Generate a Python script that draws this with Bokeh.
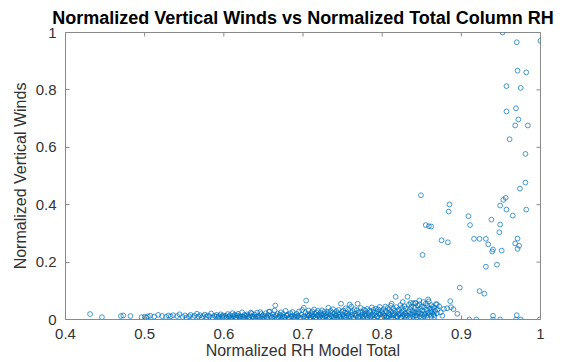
import math
from bokeh.plotting import figure
from bokeh.models import Range1d, FixedTicker, CustomJSTickFormatter
from bokeh.embed import file_html
from bokeh.resources import INLINE

# ---- data ----
x_ticks = [0.4, 0.5, 0.6, 0.7, 0.8, 0.9, 1.0]
y_ticks = [0.0, 0.2, 0.4, 0.6, 0.8, 1.0]

# sparse left tail
xa = [0.431, 0.446, 0.470, 0.473, 0.482, 0.496, 0.500, 0.502, 0.504, 0.507, 0.512, 0.517, 0.522, 0.527, 0.530, 0.533, 0.536]
ya = [0.019, 0.008, 0.012, 0.014, 0.012, 0.008, 0.010, 0.006, 0.011, 0.013, 0.010, 0.016, 0.012, 0.009, 0.014, 0.011, 0.015]

xb = [0.541, 0.544, 0.548, 0.551, 0.553, 0.556, 0.558, 0.561, 0.563, 0.566, 0.568, 0.570, 0.572, 0.574, 0.576,
      0.578, 0.580, 0.582, 0.584, 0.586, 0.588, 0.590, 0.591, 0.593, 0.594, 0.596, 0.597, 0.598, 0.599, 0.600]
yb = [0.012, 0.018, 0.009, 0.014, 0.006, 0.011, 0.016, 0.008, 0.013, 0.020, 0.010, 0.015, 0.007, 0.012, 0.017,
      0.009, 0.014, 0.011, 0.021, 0.006, 0.013, 0.010, 0.016, 0.008, 0.012, 0.018, 0.005, 0.011, 0.014, 0.009]

xc = [0.602, 0.603, 0.605, 0.606, 0.608, 0.609, 0.611, 0.612, 0.614, 0.615,
      0.617, 0.618, 0.620, 0.621, 0.623, 0.624, 0.626, 0.627, 0.629, 0.630,
      0.632, 0.633, 0.635, 0.636, 0.638, 0.639, 0.641, 0.642, 0.644, 0.645,
      0.647, 0.648, 0.650, 0.651, 0.653, 0.654, 0.656, 0.657, 0.659, 0.660,
      0.662, 0.663, 0.665, 0.666, 0.668, 0.669, 0.671, 0.672, 0.674, 0.675,
      0.677, 0.678, 0.680, 0.681, 0.683, 0.684, 0.686, 0.687, 0.689, 0.690,
      0.692, 0.693, 0.695, 0.696, 0.698, 0.699, 0.664, 0.658, 0.646, 0.634]
yc = [0.013, 0.007, 0.019, 0.010, 0.015, 0.004, 0.022, 0.011, 0.017, 0.008,
      0.014, 0.020, 0.006, 0.012, 0.025, 0.009, 0.016, 0.003, 0.018, 0.011,
      0.008, 0.015, 0.021, 0.012, 0.005, 0.017, 0.010, 0.024, 0.013, 0.007,
      0.019, 0.011, 0.015, 0.004, 0.022, 0.009, 0.016, 0.027, 0.012, 0.006,
      0.018, 0.010, 0.049, 0.014, 0.021, 0.007, 0.016, 0.025, 0.011, 0.019,
      0.008, 0.030, 0.013, 0.017, 0.005, 0.022, 0.012, 0.026, 0.009, 0.015,
      0.020, 0.011, 0.028, 0.006, 0.017, 0.033, 0.031, 0.028, 0.026, 0.024]

xd = [0.701, 0.702, 0.703, 0.704, 0.705, 0.706, 0.707, 0.708, 0.709, 0.710,
      0.711, 0.712, 0.713, 0.714, 0.715, 0.716, 0.717, 0.718, 0.719, 0.720,
      0.721, 0.722, 0.723, 0.724, 0.725, 0.726, 0.727, 0.728, 0.729, 0.730,
      0.731, 0.732, 0.733, 0.734, 0.735, 0.736, 0.737, 0.738, 0.739, 0.740,
      0.741, 0.742, 0.743, 0.744, 0.745, 0.746, 0.747, 0.748, 0.749, 0.750,
      0.751, 0.752, 0.753, 0.754, 0.755, 0.756, 0.757, 0.758, 0.759, 0.760,
      0.761, 0.762, 0.763, 0.764, 0.765, 0.766, 0.767, 0.768, 0.769, 0.770,
      0.771, 0.772, 0.773, 0.774, 0.775, 0.776, 0.777, 0.778, 0.779, 0.780,
      0.781, 0.782, 0.783, 0.784, 0.785, 0.786, 0.787, 0.788, 0.789, 0.790,
      0.791, 0.792, 0.793, 0.794, 0.795, 0.796, 0.797, 0.798, 0.799, 0.800]
yd = [0.041, 0.012, 0.024, 0.066, 0.008, 0.019, 0.031, 0.014, 0.005, 0.022,
      0.016, 0.028, 0.010, 0.035, 0.020, 0.006, 0.025, 0.013, 0.030, 0.017,
      0.009, 0.023, 0.014, 0.032, 0.004, 0.019, 0.027, 0.011, 0.021, 0.015,
      0.026, 0.041, 0.007, 0.018, 0.030, 0.012, 0.024, 0.036, 0.009, 0.020,
      0.014, 0.029, 0.005, 0.022, 0.033, 0.016, 0.010, 0.055, 0.027, 0.018,
      0.031, 0.008, 0.024, 0.039, 0.013, 0.021, 0.034, 0.011, 0.052, 0.026,
      0.045, 0.017, 0.029, 0.006, 0.036, 0.020, 0.013, 0.032, 0.055, 0.023,
      0.010, 0.028, 0.040, 0.016, 0.025, 0.007, 0.034, 0.019, 0.030, 0.012,
      0.037, 0.022, 0.014, 0.031, 0.026, 0.009, 0.042, 0.018, 0.033, 0.024,
      0.015, 0.038, 0.028, 0.011, 0.035, 0.021, 0.044, 0.017, 0.030, 0.025]

xe = [0.801, 0.802, 0.803, 0.804, 0.805, 0.806, 0.807, 0.808, 0.809, 0.810,
      0.811, 0.812, 0.813, 0.814, 0.815, 0.816, 0.817, 0.818, 0.819, 0.820,
      0.821, 0.822, 0.823, 0.824, 0.825, 0.826, 0.827, 0.828, 0.829, 0.830,
      0.831, 0.832, 0.833, 0.834, 0.835, 0.836, 0.837, 0.838, 0.839, 0.840,
      0.841, 0.842, 0.843, 0.844, 0.845, 0.846, 0.847, 0.848, 0.849, 0.850,
      0.851, 0.852, 0.853, 0.854, 0.855, 0.856, 0.857, 0.858, 0.859, 0.860,
      0.861, 0.862, 0.863, 0.864, 0.865, 0.866, 0.867, 0.868, 0.869, 0.870,
      0.803, 0.808, 0.814, 0.819, 0.824, 0.829, 0.834, 0.839, 0.844, 0.849,
      0.853, 0.857, 0.862, 0.866, 0.842, 0.836, 0.826, 0.812, 0.847, 0.858]
ye = [0.020, 0.036, 0.012, 0.045, 0.028, 0.008, 0.040, 0.023, 0.033, 0.016,
      0.048, 0.027, 0.014, 0.038, 0.021, 0.031, 0.079, 0.043, 0.010, 0.029,
      0.035, 0.018, 0.050, 0.025, 0.041, 0.012, 0.032, 0.046, 0.022, 0.038,
      0.015, 0.079, 0.028, 0.052, 0.036, 0.019, 0.044, 0.030, 0.057, 0.024,
      0.040, 0.057, 0.013, 0.034, 0.048, 0.026, 0.053, 0.037, 0.020, 0.045,
      0.031, 0.061, 0.042, 0.017, 0.055, 0.035, 0.047, 0.024, 0.063, 0.039,
      0.028, 0.050, 0.036, 0.044, 0.019, 0.041, 0.030, 0.054, 0.022, 0.035,
      0.006, 0.011, 0.004, 0.009, 0.007, 0.012, 0.005, 0.010, 0.008, 0.006,
      0.011, 0.007, 0.013, 0.009, 0.025, 0.058, 0.061, 0.055, 0.066, 0.070]

# low, dense bottom layer of the band
xh = [0.603, 0.607, 0.610, 0.613, 0.616, 0.619, 0.622, 0.625, 0.628, 0.631,
      0.637, 0.640, 0.643, 0.649, 0.652, 0.655, 0.661, 0.667, 0.670, 0.673,
      0.676, 0.679, 0.682, 0.685, 0.688, 0.691, 0.694, 0.697, 0.7005, 0.7035,
      0.7065, 0.7095, 0.7125, 0.7155, 0.7185, 0.7215, 0.7245, 0.7275, 0.7305, 0.7335,
      0.7365, 0.7395, 0.7425, 0.7455, 0.7485, 0.7515, 0.7545, 0.7575, 0.7605, 0.7635,
      0.7665, 0.7695, 0.7725, 0.7755, 0.7785, 0.7815, 0.7845, 0.7875, 0.7905, 0.7935,
      0.7965, 0.7995, 0.8025, 0.8055, 0.8085, 0.8115, 0.8145, 0.8175, 0.8205, 0.8235,
      0.8265, 0.8295, 0.8325, 0.8355, 0.8385, 0.8415, 0.8445, 0.8475, 0.8505, 0.8535,
      0.8565, 0.8595, 0.8625, 0.8655]
yh = [0.004, 0.009, 0.002, 0.012, 0.006, 0.010, 0.003, 0.008, 0.013, 0.005,
      0.010, 0.004, 0.009, 0.002, 0.012, 0.006, 0.008, 0.004, 0.011, 0.003,
      0.009, 0.014, 0.006, 0.010, 0.003, 0.008, 0.012, 0.005, 0.009, 0.004,
      0.013, 0.007, 0.010, 0.003, 0.015, 0.008, 0.005, 0.012, 0.009, 0.004,
      0.011, 0.006, 0.014, 0.009, 0.003, 0.012, 0.007, 0.016, 0.010, 0.005,
      0.013, 0.008, 0.004, 0.011, 0.015, 0.006, 0.009, 0.013, 0.004, 0.010,
      0.017, 0.007, 0.014, 0.010, 0.019, 0.005, 0.015, 0.012, 0.018, 0.007,
      0.016, 0.021, 0.013, 0.009, 0.018, 0.014, 0.020, 0.011, 0.016, 0.022,
      0.013, 0.018, 0.024, 0.015]

xf = [0.872, 0.874, 0.876, 0.878, 0.882, 0.886, 0.887, 0.890, 0.895, 0.869, 0.842,
      0.910, 0.919, 0.940, 0.940, 0.949, 0.969, 0.970, 0.975, 0.999]
yf = [0.046, 0.025, 0.013, 0.037, 0.039, 0.064, 0.043, 0.036, 0.020, 0.052, 0.057,
      0.000, 0.000, 0.013, 0.000, 0.000, 0.000, 0.015, 0.000, 0.000]

# upper scattered points
xg = [0.952, 0.970, 1.000, 0.971, 0.982, 0.957, 0.975, 0.969, 0.957, 0.972, 0.968, 0.984,
      0.961, 0.981, 0.981, 0.974, 0.956, 0.953, 0.949, 0.957, 0.982, 0.965, 0.938, 0.949,
      0.948, 0.909, 0.911, 0.885, 0.884, 0.849, 0.855, 0.859, 0.862, 0.875, 0.883, 0.851,
      0.916, 0.923, 0.931, 0.934, 0.940, 0.939, 0.951, 0.968, 0.971, 0.973, 0.971, 0.931,
      0.945, 0.898, 0.923, 0.929]
yg = [1.000, 0.966, 0.971, 0.867, 0.861, 0.813, 0.807, 0.736, 0.725, 0.697, 0.676, 0.676,
      0.628, 0.577, 0.477, 0.456, 0.424, 0.417, 0.397, 0.383, 0.383, 0.362, 0.348, 0.331,
      0.304, 0.360, 0.329, 0.401, 0.376, 0.433, 0.329, 0.325, 0.324, 0.276, 0.269, 0.225,
      0.281, 0.281, 0.281, 0.262, 0.244, 0.237, 0.240, 0.265, 0.282, 0.257, 0.246, 0.184,
      0.191, 0.111, 0.099, 0.090]

rh = xa + xb + xc + xd + xe + xh + xf + xg
winds = ya + yb + yc + yd + ye + yh + yf + yg

FONT = "Liberation Sans"
TXT = "#333333"
AX = "#8a8a8a"

p = figure(width=565, height=362, output_backend="svg", toolbar_location=None,
           x_range=Range1d(0.4, 1.0), y_range=Range1d(0.0, 1.0),
           min_border_left=65, min_border_right=25, min_border_top=32, min_border_bottom=43,
           title="Normalized Vertical Winds vs Normalized Total Column RH")

p.title.text_font = FONT
p.title.text_font_size = "18px"
p.title.text_font_style = "bold"
p.title.text_color = "black"
p.title.align = "center"
p.title.standoff = 10

p.grid.visible = False
p.outline_line_color = AX
p.outline_line_width = 1
p.background_fill_color = "white"
p.border_fill_color = "white"

fmt = CustomJSTickFormatter(code="return Math.abs(tick - Math.round(tick)) < 1e-9 ? tick.toFixed(0) : tick.toFixed(1);")

for ax, ticks in ((p.xaxis[0], x_ticks), (p.yaxis[0], y_ticks)):
    ax.ticker = FixedTicker(ticks=ticks)
    ax.formatter = fmt
    ax.major_tick_in = 4
    ax.major_tick_out = 0
    ax.minor_tick_line_color = None
    ax.axis_line_color = AX
    ax.major_tick_line_color = AX
    ax.major_label_text_font = FONT
    ax.major_label_text_font_size = "15px"
    ax.major_label_text_color = TXT
    ax.axis_label_text_font = FONT
    ax.axis_label_text_font_size = "16px"
    ax.axis_label_text_font_style = "normal"
    ax.axis_label_text_color = TXT

p.xaxis.major_label_standoff = 9
p.xaxis.axis_label_standoff = 0
p.yaxis.major_label_standoff = 9
p.yaxis.axis_label_standoff = 4

p.xaxis.axis_label = "Normalized RH Model Total"
p.yaxis.axis_label = "Normalized Vertical Winds"

# inward ticks on the top and right edges of the box
p.scatter(x_ticks, [y_ticks[-1]] * len(x_ticks), marker="dash", angle=math.pi / 2,
          size=8, line_color=AX, line_width=1)
p.scatter([x_ticks[-1]] * len(y_ticks), y_ticks, marker="dash",
          size=8, line_color=AX, line_width=1)

p.scatter(rh, winds, marker="circle", size=4.8, fill_color=None,
          line_color="#0072BD", line_alpha=0.8, line_width=0.9)

open("out.html", "w").write(file_html(p, INLINE))
